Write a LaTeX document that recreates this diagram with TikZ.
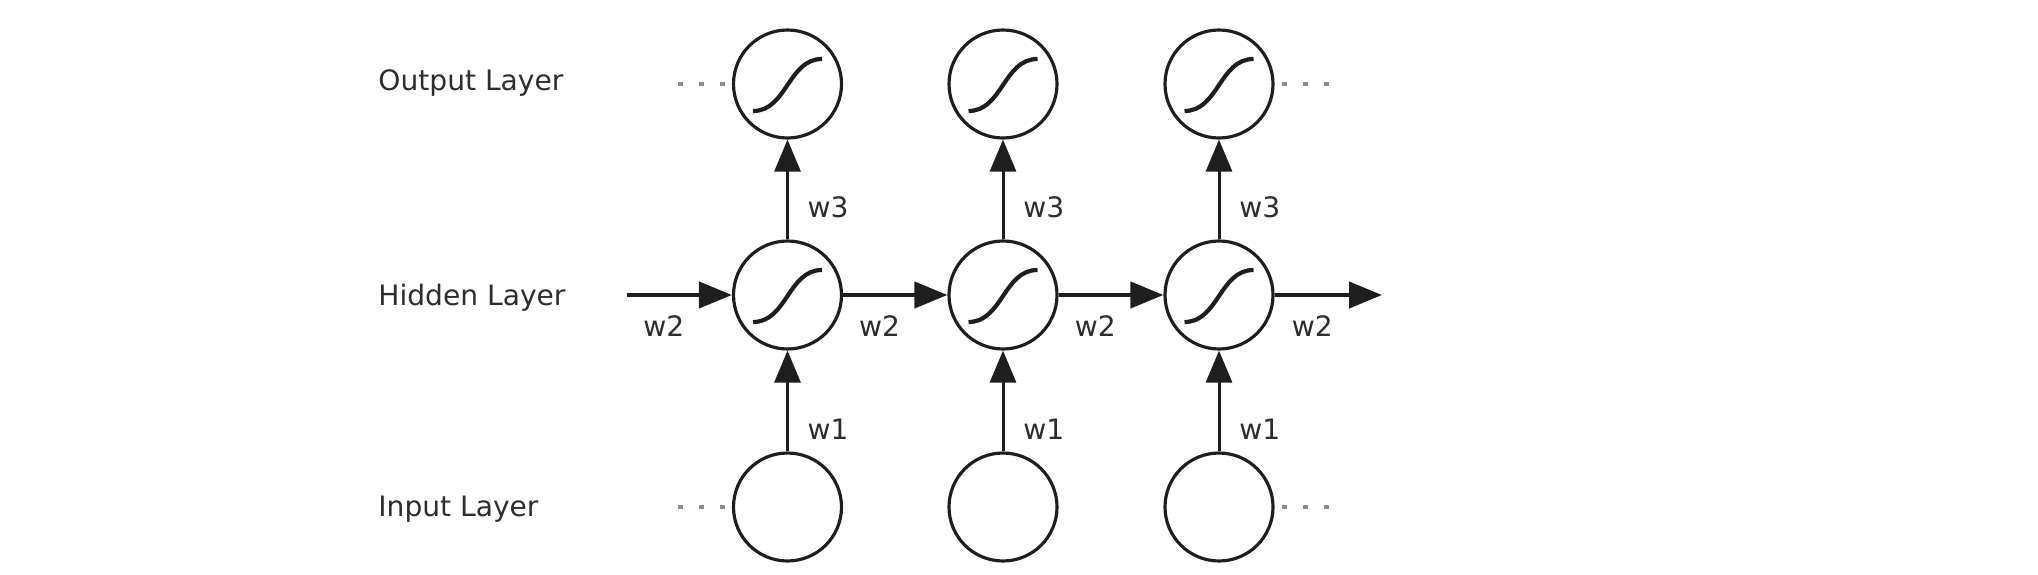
\documentclass[tikz,border=0pt]{standalone}
\usepackage{fontspec}
\setmainfont{DejaVu Sans}
\usetikzlibrary{arrows.meta,positioning}
\definecolor{inkgray}{RGB}{30,30,30}
\definecolor{textgray}{RGB}{45,45,45}
\definecolor{dotgray}{RGB}{140,140,140}

\begin{document}
\begin{tikzpicture}[
    every node/.style={font=\fontsize{8}{10}\selectfont, text=textgray},
    neuron/.style={circle, draw=inkgray, line width=0.9pt, minimum size=1.08cm, inner sep=0pt},
    upedge/.style={draw=inkgray, line width=0.85pt, -{Triangle[length=0.32cm,width=0.26cm]}},
    recedge/.style={draw=inkgray, line width=1.2pt, -{Triangle[length=0.33cm,width=0.26cm]}},
    sig/.style={inkgray, line width=1.2pt},
    dotline/.style={dotgray, line width=0.9pt, dash pattern=on 0.05cm off 0.16cm}
  ]
  \useasboundingbox (0,0) rectangle (20.38,5.74);

  % Couches
  \node[anchor=base west] (lout) at (3.66,4.84) {Output Layer};
  \node[anchor=base west] (lhid) at (3.66,2.69) {Hidden Layer};
  \node[anchor=base west] (lin)  at (3.66,0.58) {Input Layer};

  % Neurones
  \foreach \i/\x in {1/7.875, 2/10.03, 3/12.19} {
    \node[neuron] (o\i) at (\x,4.90) {};
    \node[neuron] (h\i) at (\x,2.79) {};
    \node[neuron] (n\i) at (\x,0.67) {};
    \draw[upedge] (n\i) -- (h\i) node[pos=0.22, right=2pt] {w1};
    \draw[upedge] (h\i) -- (o\i) node[pos=0.32, right=2pt] {w3};
    \foreach \c in {o\i, h\i}
      \draw[sig] ([shift={(-0.345,-0.27)}]\c.center) .. controls +(0.34,0) and +(-0.34,0) .. ([shift={(0.345,0.25)}]\c.center);
  }

  % Recurrence
  \coordinate (hin) at (6.27,2.79);
  \coordinate (hout) at (13.82,2.79);
  \foreach \a/\b in {hin/h1, h1/h2, h2/h3, h3/hout}
    \draw[recedge] (\a) -- (\b) node[pos=0.35, below=2pt] {w2};

  % Points de suspension
  \draw[dotline] ([xshift=-0.54cm]o1.west) -- ([xshift=-0.06cm]o1.west);
  \draw[dotline] ([xshift=-0.54cm]n1.west) -- ([xshift=-0.06cm]n1.west);
  \draw[dotline] ([xshift=0.07cm]o3.east) -- ([xshift=0.55cm]o3.east);
  \draw[dotline] ([xshift=0.07cm]n3.east) -- ([xshift=0.55cm]n3.east);
\end{tikzpicture}
\end{document}
